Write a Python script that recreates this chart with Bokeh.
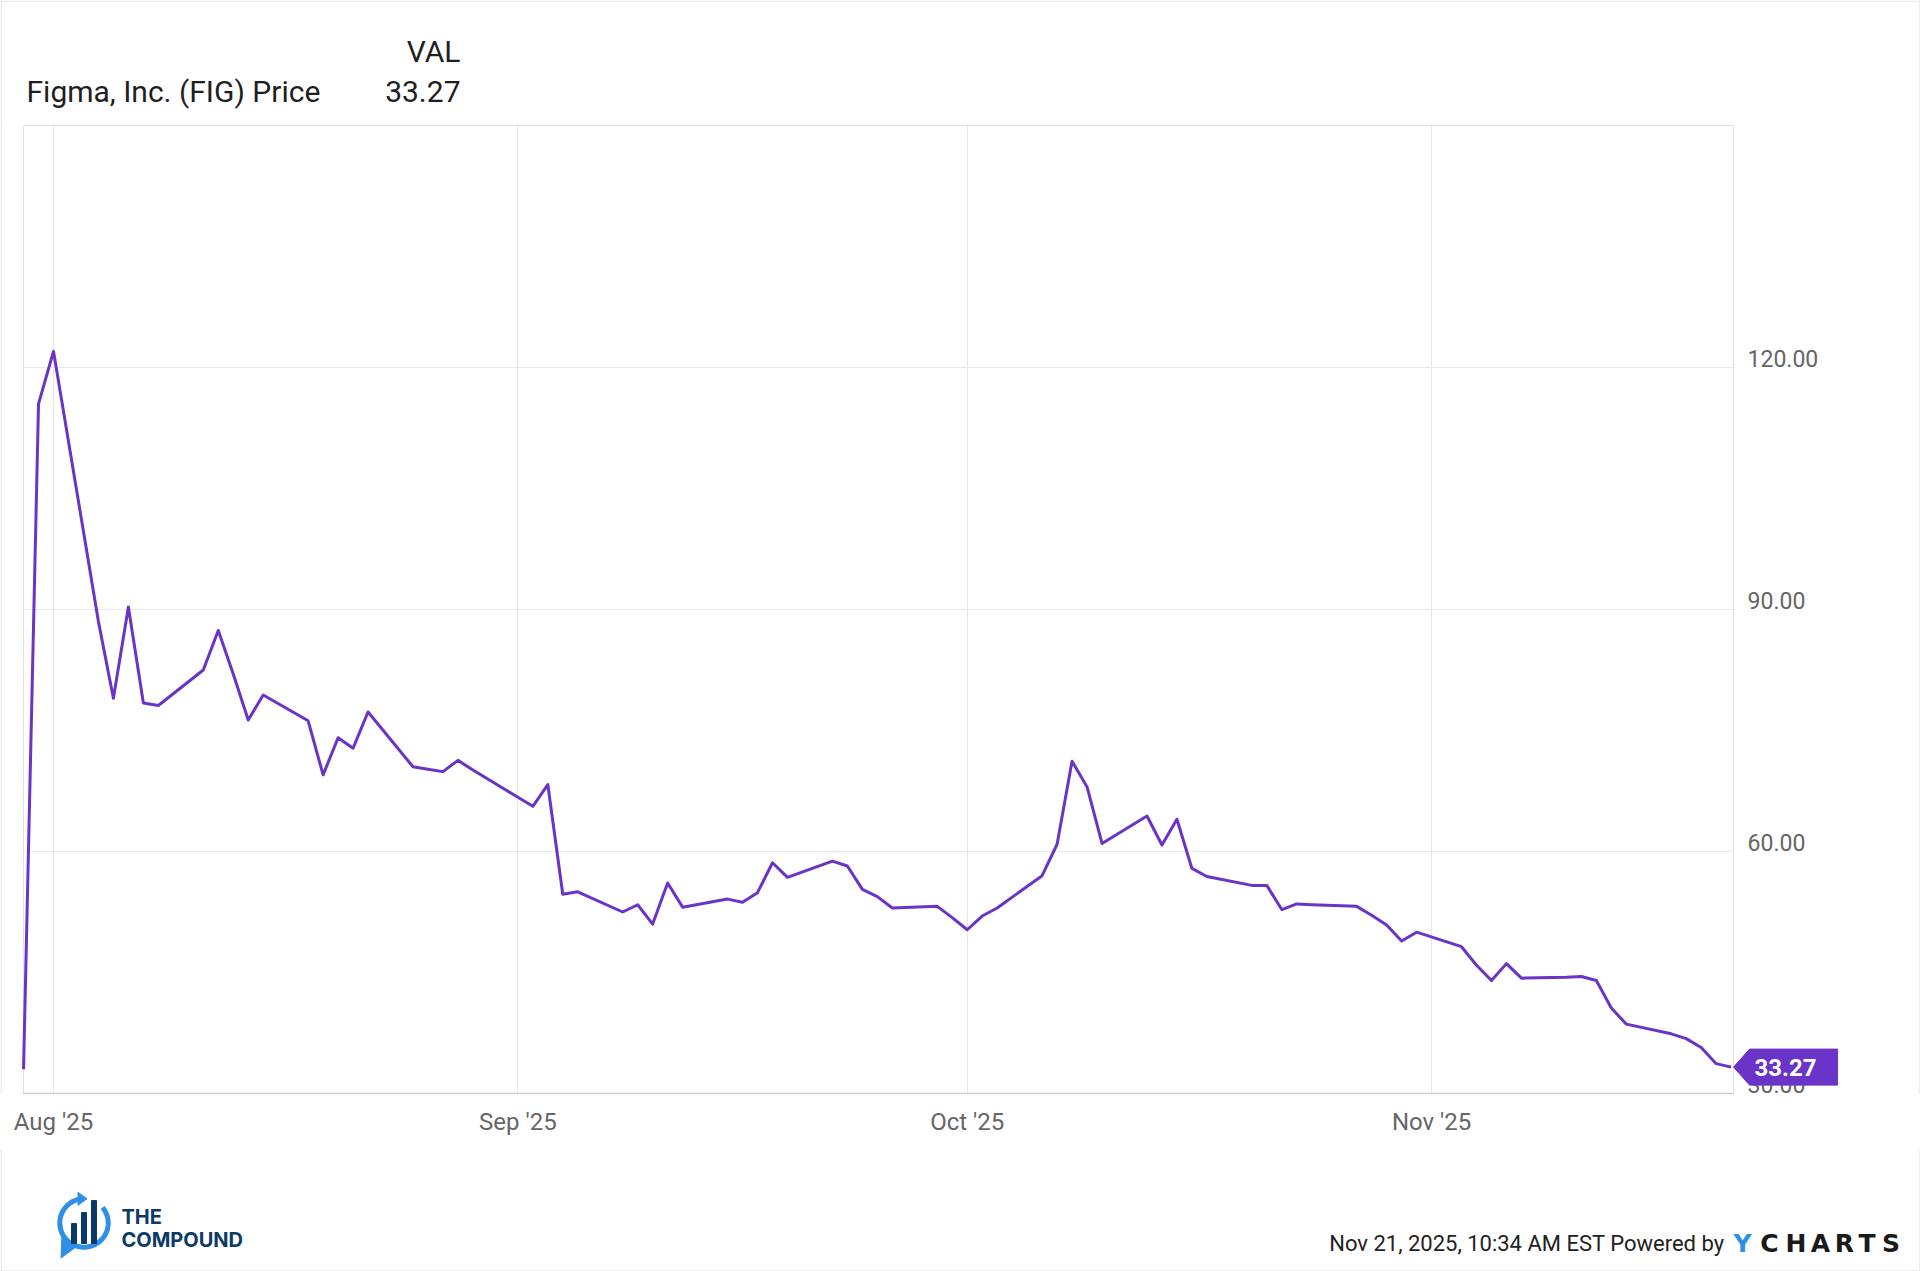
import numpy as np
import pandas as pd
from bokeh.plotting import figure
from bokeh.models import (ColumnDataSource, Range1d, FixedTicker, DatetimeTickFormatter,
                          Label, Span)
from bokeh.layouts import column
from bokeh.core.properties import value
from bokeh.embed import file_html
from bokeh.resources import INLINE

# ---------------- data ----------------
dates = [
    "2025-07-30", "2025-07-31", "2025-08-01",
    "2025-08-04", "2025-08-05", "2025-08-06", "2025-08-07", "2025-08-08",
    "2025-08-11", "2025-08-12", "2025-08-13", "2025-08-14", "2025-08-15",
    "2025-08-18", "2025-08-19", "2025-08-20", "2025-08-21", "2025-08-22",
    "2025-08-25", "2025-08-26", "2025-08-27", "2025-08-28", "2025-08-29",
    "2025-09-02", "2025-09-03", "2025-09-04", "2025-09-05",
    "2025-09-08", "2025-09-09", "2025-09-10", "2025-09-11", "2025-09-12",
    "2025-09-15", "2025-09-16", "2025-09-17", "2025-09-18", "2025-09-19",
    "2025-09-22", "2025-09-23", "2025-09-24", "2025-09-25", "2025-09-26",
    "2025-09-29", "2025-09-30", "2025-10-01", "2025-10-02", "2025-10-03",
    "2025-10-06", "2025-10-07", "2025-10-08", "2025-10-09", "2025-10-10",
    "2025-10-13", "2025-10-14", "2025-10-15", "2025-10-16", "2025-10-17",
    "2025-10-20", "2025-10-21", "2025-10-22", "2025-10-23", "2025-10-24",
    "2025-10-27", "2025-10-28", "2025-10-29", "2025-10-30", "2025-10-31",
    "2025-11-03", "2025-11-04", "2025-11-05", "2025-11-06", "2025-11-07",
    "2025-11-10", "2025-11-11", "2025-11-12", "2025-11-13", "2025-11-14",
    "2025-11-17", "2025-11-18", "2025-11-19", "2025-11-20", "2025-11-21",
]
close = [
    33.0, 115.5, 122.0,
    88.5, 79.0, 90.3, 78.4, 78.1,
    82.5, 87.4, 82.0, 76.3, 79.4,
    76.2, 69.5, 74.1, 72.8, 77.3,
    70.5, 70.2, 69.9, 71.3, 70.1,
    65.6, 68.3, 54.7, 55.0,
    52.5, 53.4, 51.0, 56.1, 53.1,
    54.1, 53.7, 54.9, 58.6, 56.8,
    58.8, 58.2, 55.3, 54.4, 53.0,
    53.2, 51.8, 50.3, 52.0, 53.0,
    57.0, 60.9, 71.2, 68.0, 61.0,
    64.4, 60.8, 64.0, 57.9, 56.9,
    55.8, 55.8, 52.8, 53.5, 53.4,
    53.2, 52.1, 50.9, 48.9, 50.0,
    48.2, 45.9, 44.0, 46.1, 44.3,
    44.4, 44.5, 44.0, 40.6, 38.6,
    37.4, 36.8, 35.7, 33.7, 33.27,
]
month_ticks = ["2025-08-01", "2025-09-01", "2025-10-01", "2025-11-01"]
price_ticks = [30, 60, 90, 120]
series_name = "Figma, Inc. (FIG) Price"
header_col = "VAL"
timestamp_text = "Nov 21, 2025, 10:34 AM EST Powered by"

# ---------------- helpers ----------------
EPOCH = pd.Timestamp("1970-01-01")


def to_ms(ts):
    return (pd.Timestamp(ts) - EPOCH) / pd.Timedelta(milliseconds=1)


def mid(baseline, size, cap=0.355):
    """vertical centre of capitals (page px, y down) for a given baseline"""
    return baseline - cap * size


PURPLE = "#6a34c8"
GRID = "#e8e8e8"
AXIS_TXT = "#666666"
DARK = "#1f1f1f"
EDGE = "#dddddd"
W = 1920

# ---------------- header (page coordinates) ----------------
hdr = figure(frame_width=W, frame_height=124, x_range=Range1d(0, W), y_range=Range1d(124, 0),
             x_axis_location=None, y_axis_location=None, min_border=0,
             toolbar_location=None, output_backend="svg", outline_line_color=None)
hdr.grid.visible = False
for loc in (0.5, W - 0.5):
    hdr.add_layout(Span(location=loc, dimension="height", line_color=EDGE, line_width=1))
hdr.add_layout(Span(location=0.5, dimension="width", line_color=EDGE, line_width=1))
HS = 30
hdr.add_layout(Label(x=460, y=mid(62, HS), text=header_col, text_align="right",
                     text_baseline="middle", text_font="Roboto", text_font_size=f"{HS}px",
                     text_color=DARK))
hdr.add_layout(Label(x=26, y=mid(102, HS), text=series_name, text_align="left",
                     text_baseline="middle", text_font="Roboto", text_font_size=f"{HS}px",
                     text_color=DARK))
hdr.add_layout(Label(x=460, y=mid(102, HS), text=f"{close[-1]:.2f}", text_align="right",
                     text_baseline="middle", text_font="Roboto", text_font_size=f"{HS}px",
                     text_color=DARK))

# ---------------- main chart ----------------
MS_DAY = 86400000.0
PX_DAY = 14.979                 # horizontal scale
PX_UNIT = 242.0 / 30.0          # vertical scale
mpp = MS_DAY / PX_DAY           # ms per pixel
upp = 1.0 / PX_UNIT             # price units per pixel

aug1 = to_ms(month_ticks[0])
xs = aug1 - 53 * mpp            # canvas left edge
xe = xs + W * mpp               # canvas right edge
x_left = aug1 - 30 * mpp        # plot-area left border
x_edge = to_ms(dates[-1]) + 2.4 * mpp   # plot-area right border
FH = 970
y_top = price_ticks[-1] + (367 - 124) * upp
y_bot = y_top - FH * upp
ymin, ymax = price_ticks[0], price_ticks[-1] + 30

src = ColumnDataSource(dict(date=pd.to_datetime(dates), close=close))

p = figure(x_axis_type="datetime", y_axis_location=None,
           x_range=Range1d(xs, xe), y_range=Range1d(y_bot, y_top),
           frame_width=W, frame_height=FH,
           min_border_left=0, min_border_right=0, min_border_top=0, min_border_bottom=56,
           toolbar_location=None, output_backend="svg",
           background_fill_color="white", border_fill_color="white")
p.outline_line_color = None

month_ms = [to_ms(m) for m in month_ticks]
xa = p.xaxis[0]
xa.ticker = FixedTicker(ticks=month_ms)
fmt = "%b '%y"
xa.formatter = DatetimeTickFormatter(days=fmt, months=fmt, years=fmt, hours=fmt,
                                     hourmin=fmt, minutes=fmt, seconds=fmt)
xa.major_tick_line_color = None
xa.minor_tick_line_color = None
xa.axis_line_color = None
xa.major_label_text_font = "Roboto"
xa.major_label_text_font_size = "24px"
xa.major_label_text_color = AXIS_TXT
xa.major_label_standoff = 7

p.xgrid.ticker = FixedTicker(ticks=month_ms)
p.xgrid.grid_line_color = GRID
p.ygrid.visible = False

# horizontal grid lines, bounded by the plot area
p.segment(x0=[x_left] * len(price_ticks), x1=[x_edge] * len(price_ticks),
          y0=price_ticks, y1=price_ticks, line_color=GRID, line_width=1)
# plot-area border
p.segment(x0=[x_left, x_left, x_edge], x1=[x_left, x_edge, x_edge],
          y0=[ymin, ymax, ymin], y1=[ymax, ymax, ymax], line_color="#e0e0e0", line_width=1)
p.segment(x0=[x_left], x1=[x_edge], y0=[ymin], y1=[ymin], line_color="#cccccc", line_width=1.5)
# outer chart edges
for loc in (xs + 0.5 * mpp, xe - 0.5 * mpp):
    p.add_layout(Span(location=loc, dimension="height", line_color=EDGE, line_width=1))

# right-hand price labels (baseline sits just above each grid line)
TS = 23
p.text(x=[x_edge] * len(price_ticks), y=[v + (1 + 0.355 * TS) * upp for v in price_ticks],
       text=[f"{v:.2f}" for v in price_ticks],
       x_offset=14, text_align="left", text_baseline="middle",
       text_font=value("Roboto"), text_font_size=f"{TS}px", text_color=AXIS_TXT)

p.line("date", "close", source=src, line_color=PURPLE, line_width=3, line_join="round")

# last-value tag
ly = close[-1]
p.patch(x=[x_edge, x_edge + 16 * mpp, x_edge + 104 * mpp, x_edge + 104 * mpp, x_edge + 16 * mpp],
        y=[ly, ly + 18 * upp, ly + 18 * upp, ly - 18 * upp, ly - 18 * upp],
        fill_color=PURPLE, line_color=PURPLE)
p.text(x=[x_edge], y=[ly], text=[f"{close[-1]:.2f}"], x_offset=21, text_align="left",
       text_baseline="middle", text_font=value("Roboto"), text_font_style="bold",
       text_font_size="24px", text_color="white")

# ---------------- footer (page coordinates) ----------------
F_TOP = 124 + FH + 56
F_H = 1271 - F_TOP
ftr = figure(frame_width=W, frame_height=F_H, x_range=Range1d(0, W), y_range=Range1d(1271, F_TOP),
             x_axis_location=None, y_axis_location=None, min_border=0,
             toolbar_location=None, output_backend="svg", outline_line_color=None)
ftr.grid.visible = False
for loc in (0.5, W - 0.5):
    ftr.add_layout(Span(location=loc, dimension="height", line_color=EDGE, line_width=1))
ftr.add_layout(Span(location=1270.5, dimension="width", line_color=EDGE, line_width=1))

BLUE = "#2d8fe6"
NAVY = "#0c3a68"
cx, cy, r = 83.5, 1222.5, 24.2
th = np.radians(np.linspace(103, 400, 90))
ftr.line(cx + r * np.cos(th), cy - r * np.sin(th), line_color=BLUE, line_width=5)
ftr.patch([cx - 6, cx - 6, cx + 3], [cy - r - 6.5, cy - r + 6.5, cy - r], color=BLUE)
ftr.patch([cx - 22, cx - 8, cx - 23], [cy + 12, cy + 24, cy + 35], color=BLUE)
ftr.quad(left=[71, 81, 91], right=[76, 86, 96], top=[1223, 1212, 1200],
         bottom=[1243, 1243, 1243], color=NAVY)
LS = 20
ftr.add_layout(Label(x=121, y=mid(1224, LS, 0.364), text="THE", text_align="left",
                     text_baseline="middle", text_font="Inter", text_font_style="bold",
                     text_font_size=f"{LS}px", text_color=NAVY))
ftr.add_layout(Label(x=121, y=mid(1247, LS, 0.364), text="COMPOUND", text_align="left",
                     text_baseline="middle", text_font="Inter", text_font_style="bold",
                     text_font_size=f"{LS}px", text_color=NAVY))

FS = 22
ftr.add_layout(Label(x=1724, y=mid(1251, FS), text=timestamp_text, text_align="right",
                     text_baseline="middle", text_font="Roboto", text_font_size=f"{FS}px",
                     text_color="#222222"))
brand = "YCHARTS"
brand_x = [1742, 1769, 1795.5, 1820, 1844, 1866.5, 1890.5]
BS = 25
for ch, bx in zip(brand, brand_x):
    ftr.add_layout(Label(x=bx, y=mid(1252, BS, 0.365), text=ch, text_align="center",
                         text_baseline="middle", text_font="DejaVu Sans",
                         text_font_style="bold", text_font_size=f"{BS}px",
                         text_color=(BLUE if ch == "Y" else "#1a1a1a")))

layout = column(hdr, p, ftr, spacing=0)
open("out.html", "w").write(file_html(layout, INLINE))
